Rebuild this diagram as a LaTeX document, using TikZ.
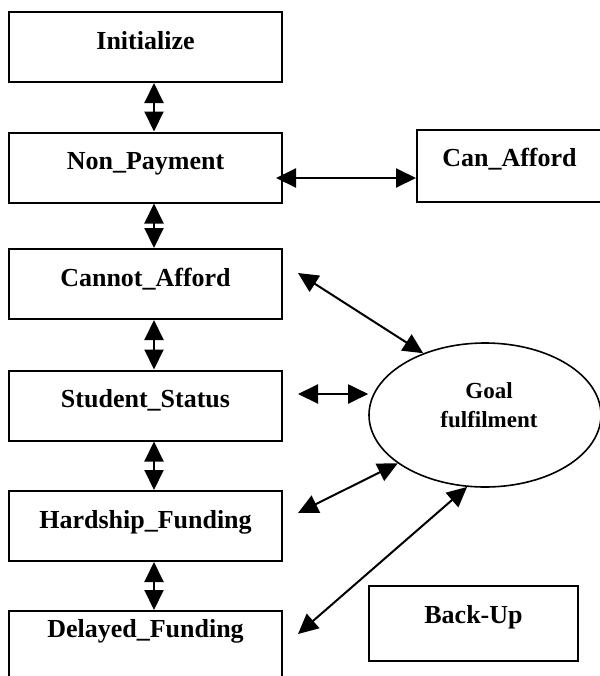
\documentclass[tikz,border=0pt]{standalone}
\usepackage{fontspec}
\setmainfont{Liberation Serif}
\usetikzlibrary{arrows.meta,shapes.geometric}

\begin{document}
\begin{tikzpicture}%
        [x=0.5pt, y=-0.5pt,
        state/.style={draw, line width=1pt, inner sep=0pt,
            minimum width=136.5pt, minimum height=35pt,
            text height=10pt, text depth=8pt,
            font=\fontsize{13}{15.6}\selectfont\bfseries},
        side/.style={state, text height=8.5pt, text depth=8.5pt},
        goalshape/.style={draw, ellipse, line width=0.8pt, inner sep=0pt,
            minimum width=116pt, minimum height=72pt},
        goaltext/.style={align=center, inner sep=0pt,
            font=\fontsize{11.5}{14.5}\selectfont\bfseries},
        link/.style={line width=1pt,
            {Triangle[length=10pt,width=9.5pt]}-{Triangle[length=10pt,width=9.5pt]}},
        down/.style={xshift=4.25pt}]
    %
    \useasboundingbox (0,0) rectangle (600,676);
    %
    %% Drawing the states
    \node[state] (init)     at (145.5,47)    {Initialize};
    \node[state] (nonpay)   at (145.5,167.5) {Non\_Payment};
    \node[state] (cannot)   at (145.5,284)   {Cannot\_Afford};
    \node[state] (status)   at (145.5,405.5) {Student\_Status};
    \node[state] (hardship) at (145.5,526)   {Hardship\_Funding};
    \node[state, text depth=19pt] (delayed) at (145.5,646) {Delayed\_Funding};
    %%
    \node[side, minimum width=92.5pt, minimum height=36pt] (canafford) at (509.5,166) {Can\_Afford};
    \node[side, minimum width=104.5pt, minimum height=37.5pt] (backup) at (473.5,623.5) {Back-Up};
    %%
    \node[goalshape] (goal) at (485,415) {};
    \node[goaltext] (goallabel) at ([xshift=2pt,yshift=5pt]goal.center) {Goal\\fulfilment};
    %%
    %% Drawing the transitions
    \draw[link] ([down]init.south)     -- ([down]nonpay.north);
    \draw[link] ([down]nonpay.south)   -- ([down]cannot.north);
    \draw[link] ([down]cannot.south)   -- ([down]status.north);
    \draw[link] ([down]status.south)   -- ([down]hardship.north);
    \draw[link] ([down]hardship.south) -- ([down]delayed.north);
    \draw[link] ([xshift=-3.5pt,yshift=-5.25pt]nonpay.east) -- ([yshift=-6pt]canafford.west);
    %%
    %% Links to the goal
    \draw[link] ([xshift=7.5pt,yshift=5.5pt]cannot.east)   -- (goal.135);
    \draw[link] ([xshift=7.5pt,yshift=5.75pt]status.east)  -- ([yshift=10.5pt]goal.west);
    \draw[link] ([xshift=7.5pt,yshift=6.5pt]hardship.east) -- (goal.209);
    \draw[link] ([xshift=7.5pt,yshift=6pt]delayed.east)    -- (goal.256);
    %%
\end{tikzpicture}
\end{document}
